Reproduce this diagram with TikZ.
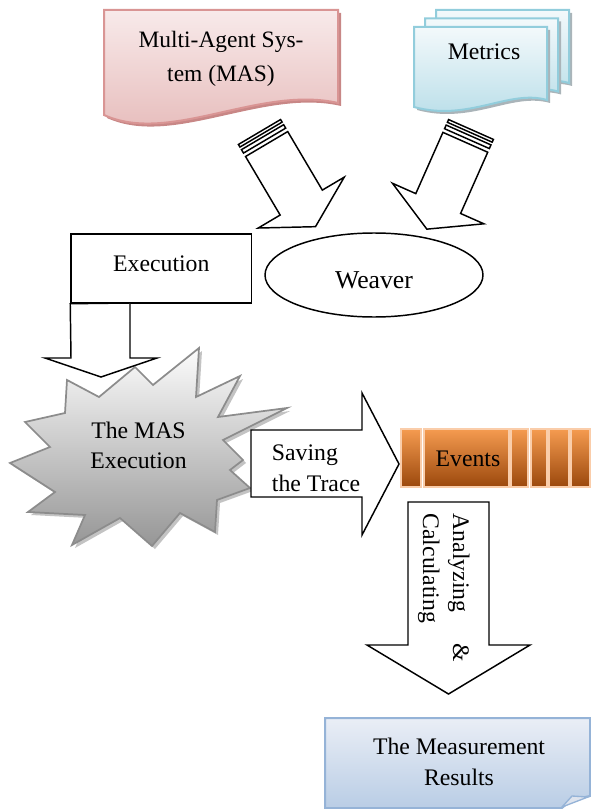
\documentclass[tikz,border=0pt]{standalone}
\usepackage{fontspec}
\setmainfont{Liberation Serif}
\usepackage{tikz}
\usetikzlibrary{shapes.geometric}
\tikzset{every picture/.style={line width=0.75pt}}

\definecolor{masline}{RGB}{217,149,148}
\definecolor{mastop}{RGB}{248,234,234}
\definecolor{masbottom}{RGB}{229,184,183}
\definecolor{masshadow}{RGB}{200,135,134}
\definecolor{metline}{RGB}{146,205,220}
\definecolor{mettop}{RGB}{243,249,251}
\definecolor{metbottom}{RGB}{183,221,232}
\definecolor{metshadow}{RGB}{170,180,185}
\definecolor{measline}{RGB}{149,179,215}
\definecolor{meastop}{RGB}{234,238,246}
\definecolor{measbottom}{RGB}{185,205,229}
\definecolor{measfold}{RGB}{222,228,238}
\definecolor{starline}{RGB}{140,140,140}
\definecolor{startop}{RGB}{252,252,252}
\definecolor{starbottom}{RGB}{150,150,150}
\definecolor{starshadow}{RGB}{195,195,195}
\definecolor{evlight}{RGB}{245,155,80}
\definecolor{evdark}{RGB}{155,72,12}
\definecolor{evline}{RGB}{250,205,170}

\tikzset{
  blockarrow/.style={draw=black, fill=white, line width=1.1pt, line join=miter},
  boxtext/.style={font=\fontsize{17.8}{23.25}\selectfont, align=center, inner sep=0pt},
  eventseg/.style={draw=evline, line width=0.8pt, top color=evlight, bottom color=evdark},
}

\begin{document}
\begin{tikzpicture}[x=0.75pt,y=0.75pt,yscale=-1,xscale=1]
\useasboundingbox (0,0) rectangle (590,809);

%Shape: Document [id:mas] shadow
\fill [masshadow] (107,13) -- (341,13) -- (341,106) .. controls (263,88) and (173,148) .. (107,118) -- cycle;
%Shape: Document [id:mas]
\draw [masline, line width=1.5pt, top color=mastop, bottom color=masbottom] (104,10) -- (338,10) -- (338,103) .. controls (260,85) and (170,145) .. (104,115) -- cycle;

%Shape: Multidocument [id:metrics]
\foreach \dx/\dy in {22/-17, 11/-8.5, 0/0} {
\fill [metshadow, shift={(414+\dx+3,27+\dy+3)}] (0,0) -- (133,0) -- (133,73) .. controls (95,62) and (55,95) .. (0,80) -- cycle;
\draw [metline, line width=1.5pt, top color=mettop, bottom color=metbottom, shift={(414+\dx,27+\dy)}] (0,0) -- (133,0) -- (133,73) .. controls (95,62) and (55,95) .. (0,80) -- cycle;
}

%Shape: Striped Right Arrow [id:masarrow]
\begin{scope}[shift={(259.5,132)}, rotate=59.4]
\draw [blockarrow] (0,-24.5) rectangle (3,24.5);
\draw [blockarrow] (6,-24.5) rectangle (10,24.5);
\draw [blockarrow] (14,-24.5) -- (82,-24.5) -- (82,-50) -- (110,0) -- (82,50) -- (82,24.5) -- (14,24.5) -- cycle;
\end{scope}
%Shape: Striped Right Arrow [id:metarrow]
\begin{scope}[shift={(471,129.5)}, rotate=113.9]
\draw [blockarrow] (0,-24.5) rectangle (3,24.5);
\draw [blockarrow] (6,-24.5) rectangle (10,24.5);
\draw [blockarrow] (14,-24.5) -- (81,-24.5) -- (81,-50) -- (109,0) -- (81,50) -- (81,24.5) -- (14,24.5) -- cycle;
\end{scope}

%Shape: Rectangle [id:exec]
\node (exec) [draw, line width=1.1pt, minimum width=135.5pt, minimum height=51.75pt] at (161.3,268.5) {};
%Shape: Ellipse [id:weaver]
\node (weaver) [draw, ellipse, line width=1.1pt, minimum width=163.5pt, minimum height=63pt] at (374,275) {};

%Shape: Explosion [id:burst] shadow
\fill [starshadow] (70,383) -- (102,400) -- (138,370) -- (156,388) -- (202,351) -- (199,400) -- (243,379) -- (221,420) -- (290,411) -- (226,443) -- (246,463) -- (233,473) -- (253,491) -- (220,503) -- (218,535) -- (183,516) -- (155,549) -- (123,521) -- (75,548) -- (88,518) -- (31,515) -- (58,495) -- (13,466) -- (53,450) -- (28,425) -- (68,416) -- cycle;
%Shape: Explosion [id:burst]
\draw [starline, line width=1.3pt, line join=miter, top color=startop, bottom color=starbottom] (67,380) -- (99,397) -- (135,367) -- (153,385) -- (199,348) -- (196,397) -- (240,376) -- (218,417) -- (287,408) -- (223,440) -- (243,460) -- (230,470) -- (250,488) -- (217,500) -- (215,532) -- (180,513) -- (152,546) -- (120,518) -- (72,545) -- (85,515) -- (28,512) -- (55,492) -- (10,463) -- (50,447) -- (25,422) -- (65,413) -- cycle;

%Shape: Down Arrow [id:execarrow]
\draw [blockarrow] (exec.south west) -- (130,303) -- (130,358) -- (157,358) -- (101,377) -- (45,358) -- (71,358) -- cycle;

%Shape: Right Arrow [id:savearrow]
\draw [blockarrow] (251,430) -- (362,430) -- (362,393) -- (399,464) -- (362,535) -- (362,497) -- (251,497) -- cycle;

%Shape: Events bar
\foreach \a/\b in {401/421, 424/509, 511/528, 531/547, 549/569, 571/590} {
\draw [eventseg] (\a,429) rectangle (\b,487);
}

%Shape: Down Arrow [id:calcarrow]
\draw [blockarrow] (408,502) -- (489,502) -- (489,645) -- (530,645) -- (448.5,694) -- (367,645) -- (408,645) -- cycle;

%Shape: Document [id:results]
\draw [measline, line width=1.5pt, top color=meastop, bottom color=measbottom] (325,718) -- (590,718) -- (590,796) .. controls (578,798) and (568,802) .. (562,808) -- (325,808) -- cycle;
\draw [measline, line width=1pt, fill=measfold] (562,807) -- (572,796) -- (588,797) -- cycle;

% Text Node
\node (mastxt) [boxtext, font=\fontsize{17.6}{25.5}\selectfont] at (221,58.5) {Multi-Agent Sys-\\tem (MAS)};
% Text Node
\node (mettxt) [boxtext, anchor=base] at (484,60) {Metrics};
% Text Node
\node (exectxt) [boxtext, anchor=base] at (161.3,271.7) {Execution};
% Text Node
\node (weavtxt) [boxtext, anchor=base, font=\fontsize{19.3}{23}\selectfont] at (374,288) {Weaver};
% Text Node
\node (bursttxt) [boxtext, font=\fontsize{17.8}{22.5}\selectfont] at (138.5,444.9) {The MAS\\Execution};
% Text Node
\node (savetxt) [boxtext, align=left] at (316,468.5) {Saving\\the Trace};
% Text Node
\node (evtxt) [boxtext, anchor=base] at (468,466) {Events};
% Text Node
\node (antxt) [boxtext, anchor=base west, rotate=-90] at (453,513) {Analyzing};
% Text Node
\node (amptxt) [boxtext, anchor=base east, rotate=-90] at (453,662) {\&};
% Text Node
\node (caltxt) [boxtext, anchor=base west, rotate=-90] at (423,513) {Calculating};
% Text Node
\node (restxt) [boxtext] at (459,761.4) {The Measurement\\Results};

\end{tikzpicture}
\end{document}
